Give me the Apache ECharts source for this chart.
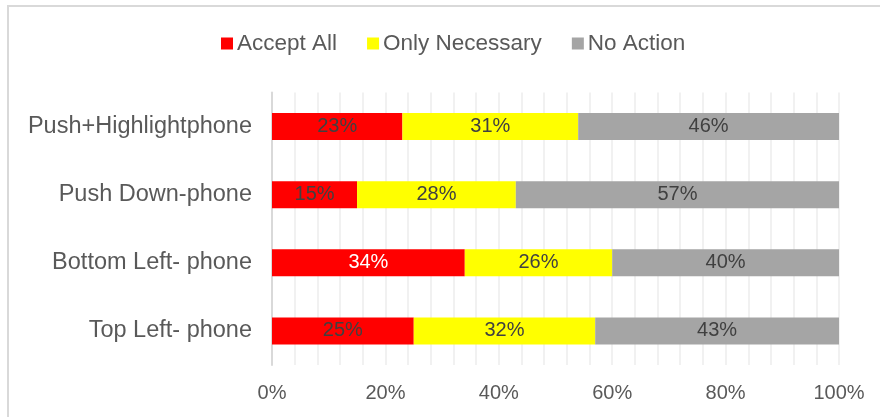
<!DOCTYPE html>
<html>
<head>
<meta charset="utf-8">
<script src="https://cdn.jsdelivr.net/npm/echarts@6/dist/echarts.min.js"></script>
<style>html,body{margin:0;padding:0;background:#fff}#c{width:880px;height:417px}</style>
</head>
<body>
<div id="c"></div>
<script>
const categories = ['Top Left- phone', 'Bottom Left- phone', 'Push Down-phone', 'Push+Highlightphone'];
const acceptAll = [25, 34, 15, 23];
const onlyNecessary = [32, 26, 28, 31];
const noAction = [43, 40, 57, 46];
const xTicks = [0, 20, 40, 60, 80, 100];
// label colour overrides (original shows 34% in white)
const acceptLabelColors = ['#404040', '#ffffff', '#404040', '#404040'];

const narrow = "'Liberation Sans Narrow', 'Liberation Sans', sans-serif";
const reg = "'Liberation Sans', sans-serif";

function mk(name, vals, color, labelColors) {
  return {
    name: name, type: 'bar', stack: 'total', barWidth: 27,
    itemStyle: { color: color },
    label: { show: true, position: 'inside', formatter: '{c}%', fontFamily: narrow, fontSize: 20, color: '#404040' },
    data: vals.map((v, i) => labelColors ? { value: v, label: { color: labelColors[i] } } : v)
  };
}

const chart = echarts.init(document.getElementById('c'), null, { renderer: 'canvas' });
chart.setOption({
  animation: false,
  backgroundColor: '#fff',
  graphic: [{ type: 'rect', shape: { x: 8, y: 6, width: 1000, height: 600 }, style: { fill: 'none', stroke: '#d9d9d9', lineWidth: 2 }, z: -1 }],
  legend: {
    top: 27, left: 216, itemWidth: 12, itemHeight: 12, itemGap: 30, icon: 'rect',
    textStyle: { fontFamily: reg, fontSize: 22.5, color: '#595959', padding: [0, 0, 0, -1] },
    data: ['Accept All', 'Only Necessary', 'No Action']
  },
  grid: { left: 272, right: 41, top: 92.5, bottom: 52, containLabel: false },
  xAxis: {
    type: 'value', min: 0, max: 100, interval: 4,
    axisLine: { show: false }, axisTick: { show: false },
    splitLine: { show: true, lineStyle: { color: '#ececec', width: 1.5 } },
    axisLabel: {
      margin: 18, fontFamily: narrow, fontSize: 20, color: '#595959',
      formatter: v => xTicks.includes(v) ? v + '%' : ''
    }
  },
  yAxis: {
    type: 'category', data: categories,
    axisLine: { show: true, lineStyle: { color: '#d9d9d9', width: 2 } },
    axisTick: { show: false },
    axisLabel: { margin: 20, fontFamily: reg, fontSize: 23.5, color: '#595959' }
  },
  series: [
    mk('Accept All', acceptAll, '#ff0000', acceptLabelColors),
    mk('Only Necessary', onlyNecessary, '#ffff00'),
    mk('No Action', noAction, '#a5a5a5')
  ]
});
</script>
</body>
</html>
